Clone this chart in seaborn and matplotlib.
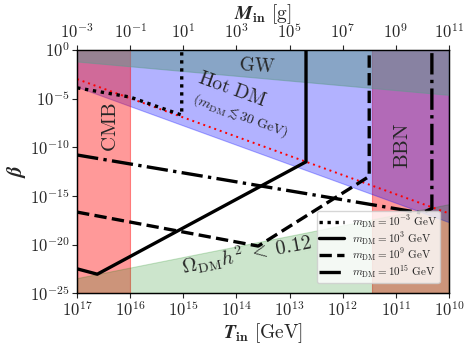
import numpy as np
import pandas as pd
import matplotlib
matplotlib.use("Agg")
import matplotlib.pyplot as plt
import seaborn as sns
from matplotlib.ticker import FixedLocator, FuncFormatter, NullLocator

# ---- data (log10 values) ----
# black curves: log10(T_in / GeV), log10(beta)
logT_m3 = [17.0, 16.0, 15.03, 15.03]
logB_m3 = [-3.9, -4.85, -6.7, 0.0]
logT_p3 = [17.0, 16.62, 12.69, 12.69]
logB_p3 = [-22.5, -23.05, -11.5, 0.0]
logT_p9 = [17.0, 13.59, 11.5, 11.5]
logB_p9 = [-16.67, -20.16, -13.0, 0.0]
logT_p15 = [17.0, 10.51, 10.32, 10.32]
logB_p15 = [-10.8, -16.77, -16.3, 0.0]
labels = [r"$m_{\mathrm{DM}}=10^{-3}\ \mathrm{GeV}$",
          r"$m_{\mathrm{DM}}=10^{3}\ \mathrm{GeV}$",
          r"$m_{\mathrm{DM}}=10^{9}\ \mathrm{GeV}$",
          r"$m_{\mathrm{DM}}=10^{15}\ \mathrm{GeV}$"]

# red dotted boundary
logT_red = [17.0, 10.0]
logB_red = [-3.0, -16.8]
# shaded regions
logT_edges = [17.0, 10.0]
logB_hotdm = [-3.8, -17.7]
logB_gw = [-1.19, -4.62]
logB_relic = [-23.45, -15.85]
cmb_logT = [17.0, 16.0]
bbn_logT = [11.45, 10.0]

xticks_T = [17, 16, 15, 14, 13, 12, 11, 10]
xticks_M = [-3, -1, 1, 3, 5, 7, 9, 11]
yticks_B = [0, -5, -10, -15, -20, -25]

# ---- style ----
sns.set_style("ticks")
plt.rcParams["mathtext.fontset"] = "cm"
plt.rcParams["font.family"] = ["DejaVu Serif"]

fig = plt.figure(figsize=(4.73, 3.49), dpi=100)
ax = fig.add_axes([0.163, 0.160, 0.786, 0.697])

p = lambda a: 10.0 ** np.asarray(a, dtype=float)

Tg = p(logT_edges)
ax.fill_between(Tg, p(logB_hotdm), 1.0, color="blue", alpha=0.3, lw=0.8, zorder=2)
ax.axvspan(p(bbn_logT)[0], p(bbn_logT)[1], color="red", alpha=0.4, lw=0.8, zorder=1)
ax.axvspan(p(cmb_logT)[0], p(cmb_logT)[1], color="red", alpha=0.4, lw=0.8, zorder=3)
ax.fill_between(Tg, 1e-25, p(logB_relic), color="green", alpha=0.2, lw=0.8, zorder=4)
ax.fill_between(Tg, p(logB_gw), 1.0, color="#5f9a8e", alpha=0.5, lw=0.8, zorder=5)

sns.lineplot(x=p(logT_red), y=p(logB_red), ax=ax, color="red", lw=1.4,
             linestyle=(0, (1, 2)), sort=False, estimator=None, zorder=6)

styles = [(0, (1, 1.4)), "-", (0, (3.7, 1.6)), (0, (6.4, 1.6, 1, 1.6))]
series = [(logT_m3, logB_m3), (logT_p3, logB_p3), (logT_p9, logB_p9), (logT_p15, logB_p15)]
for (lt, lb), ls, lab in zip(series, styles, labels):
    df = pd.DataFrame({"T": p(lt), "beta": p(lb)})
    sns.lineplot(data=df, x="T", y="beta", ax=ax, color="black", lw=2.4,
                 linestyle=ls, sort=False, estimator=None, label=lab, zorder=7)

ax.set_xscale("log")
ax.set_yscale("log")
ax.set_xlim(1e17, 1e10)
ax.set_ylim(1e-25, 1.0)

fmt = FuncFormatter(lambda v, pos: r"$10^{%d}$" % int(round(np.log10(v))))
ax.xaxis.set_major_locator(FixedLocator(p(xticks_T)))
ax.xaxis.set_minor_locator(NullLocator())
ax.xaxis.set_major_formatter(fmt)
ax.yaxis.set_major_locator(FixedLocator(p(yticks_B)))
ax.yaxis.set_minor_locator(NullLocator())
ax.yaxis.set_major_formatter(fmt)
ax.tick_params(axis="both", labelsize=12, direction="out", length=3.5, width=0.8, pad=2)

ax.set_xlabel(r"$\boldsymbol{T}_{\mathbf{in}}\ [\mathrm{GeV}]$", fontsize=14, labelpad=1)
ax.set_ylabel(r"$\boldsymbol{\beta}$", fontsize=15, labelpad=1)

ax2 = ax.twiny()
ax2.set_xscale("log")
ax2.set_xlim(1e-3, 1e11)
ax2.xaxis.set_major_locator(FixedLocator(p(xticks_M)))
ax2.xaxis.set_minor_locator(NullLocator())
ax2.xaxis.set_major_formatter(fmt)
ax2.tick_params(axis="x", labelsize=12, direction="out", length=3.5, width=0.8, pad=2)
ax2.set_xlabel(r"$\boldsymbol{M}_{\mathbf{in}}\ [\mathrm{g}]$", fontsize=14, labelpad=3)

for a in (ax, ax2):
    for s in a.spines.values():
        s.set_color("black")
        s.set_linewidth(0.9)

# annotations
ax.text(p(13.61), p(-1.65), r"$\mathrm{GW}$", fontsize=14, ha="center", va="center",
        rotation=-4, zorder=8)
ax.text(p(14.08), p(-4.1), r"$\mathrm{Hot\ DM}$", fontsize=14, ha="center", va="center",
        rotation=-20, rotation_mode="anchor", zorder=8)
ax.text(p(13.93), p(-6.75), r"$(m_{\mathrm{DM}}\lesssim 30\ \mathrm{GeV})$", fontsize=10,
        ha="center", va="center", rotation=-20, rotation_mode="anchor", zorder=8)
ax.text(p(16.38), p(-7.9), r"$\mathrm{CMB}$", fontsize=15, ha="center", va="center",
        rotation=90, zorder=8)
ax.text(p(10.87), p(-9.9), r"$\mathrm{BBN}$", fontsize=15, ha="center", va="center",
        rotation=90, zorder=8)
ax.text(p(15.0), p(-23.0), r"$\Omega_{\mathrm{DM}}h^2\;<\;0.12$", fontsize=14.5,
        ha="left", va="baseline", rotation=11, rotation_mode="anchor", zorder=8)

leg = ax.legend(loc="lower right", fontsize=8, handlelength=2.2, framealpha=0.8,
                borderpad=0.25, labelspacing=0.0, handletextpad=0.7,
                bbox_to_anchor=(0.99, 0.02))
leg.set_zorder(10)

fig.savefig("out.png", dpi=100)
